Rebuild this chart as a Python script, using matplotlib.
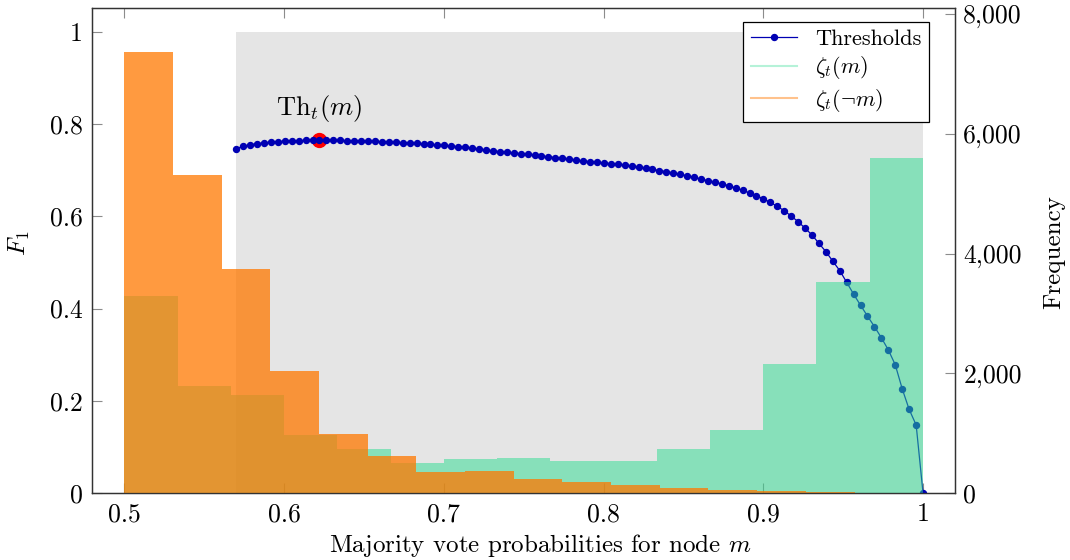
import matplotlib
matplotlib.use('Agg')
import matplotlib.pyplot as plt
from matplotlib.lines import Line2D
from matplotlib.ticker import FuncFormatter, MultipleLocator

# threshold sweep (x) and the F1 score reached at each threshold
thresholds = [
    0.5700, 0.5743, 0.5787, 0.5830, 0.5874, 0.5917, 0.5961, 0.6004, 0.6047, 0.6091,
    0.6134, 0.6178, 0.6221, 0.6265, 0.6308, 0.6352, 0.6395, 0.6438, 0.6482, 0.6525,
    0.6569, 0.6612, 0.6656, 0.6699, 0.6742, 0.6786, 0.6829, 0.6873, 0.6916, 0.6960,
    0.7003, 0.7046, 0.7090, 0.7133, 0.7177, 0.7220, 0.7264, 0.7307, 0.7350, 0.7394,
    0.7437, 0.7481, 0.7524, 0.7568, 0.7611, 0.7655, 0.7698, 0.7741, 0.7785, 0.7828,
    0.7872, 0.7915, 0.7959, 0.8002, 0.8045, 0.8089, 0.8132, 0.8176, 0.8219, 0.8263,
    0.8306, 0.8349, 0.8393, 0.8436, 0.8480, 0.8523, 0.8567, 0.8610, 0.8653, 0.8697,
    0.8740, 0.8784, 0.8827, 0.8871, 0.8914, 0.8957, 0.9001, 0.9044, 0.9088, 0.9131,
    0.9175, 0.9218, 0.9262, 0.9305, 0.9348, 0.9392, 0.9435, 0.9479, 0.9522, 0.9566,
    0.9609, 0.9652, 0.9696, 0.9739, 0.9783, 0.9826, 0.9870, 0.9913, 0.9957, 1.0000,
]
f1_scores = [
    0.7470, 0.7520, 0.7555, 0.7578, 0.7596, 0.7610, 0.7622, 0.7632, 0.7640, 0.7645,
    0.7649, 0.7651, 0.7653, 0.7651, 0.7649, 0.7647, 0.7644, 0.7640, 0.7636, 0.7631,
    0.7626, 0.7621, 0.7614, 0.7607, 0.7600, 0.7593, 0.7585, 0.7577, 0.7564, 0.7550,
    0.7538, 0.7526, 0.7513, 0.7497, 0.7480, 0.7461, 0.7442, 0.7423, 0.7404, 0.7390,
    0.7375, 0.7360, 0.7343, 0.7326, 0.7310, 0.7293, 0.7276, 0.7258, 0.7240, 0.7222,
    0.7203, 0.7188, 0.7173, 0.7158, 0.7143, 0.7128, 0.7113, 0.7090, 0.7067, 0.7043,
    0.7019, 0.6995, 0.6970, 0.6941, 0.6912, 0.6883, 0.6847, 0.6810, 0.6775, 0.6740,
    0.6704, 0.6667, 0.6617, 0.6566, 0.6508, 0.6450, 0.6378, 0.6305, 0.6215, 0.6124,
    0.6005, 0.5886, 0.5742, 0.5597, 0.5416, 0.5235, 0.5029, 0.4822, 0.4570, 0.4310,
    0.4071, 0.3840, 0.3608, 0.3369, 0.3102, 0.2783, 0.2256, 0.1815, 0.1475, 0.0000,
]

# histogram of zeta_t(m)
pos_edges = [0.5, 0.5333, 0.5667, 0.6, 0.6333, 0.6667, 0.7, 0.7333, 0.7667, 0.8,
             0.8333, 0.8667, 0.9, 0.9333, 0.9667, 1.0]
pos_counts = [3290, 1787, 1637, 969, 730, 506, 563, 584, 540, 529, 730, 1052, 2154, 3524, 5590]

# histogram of zeta_t(not m)
neg_edges = [0.5, 0.5305, 0.5609, 0.5914, 0.6219, 0.6524, 0.6828, 0.7133, 0.7438, 0.7742,
             0.8047, 0.8352, 0.8656, 0.8961, 0.9266, 0.9571]
neg_counts = [7370, 5311, 3735, 2043, 985, 618, 356, 373, 240, 189, 134, 78, 56, 39, 17]

plt.rcParams['font.family'] = 'serif'
plt.rcParams['font.serif'] = ['cmr10']
plt.rcParams['mathtext.fontset'] = 'cm'
plt.rcParams['axes.formatter.use_mathtext'] = True

blue = '#0000b3'
green = '#2bdc90'
orange = '#ff7800'

fig = plt.figure(figsize=(10.7, 5.6), dpi=100)
ax = fig.add_axes([0.0864, 0.1196, 0.8061, 0.8661])
ax2 = ax.twinx()

# shaded threshold range
ax.fill_between([thresholds[0], thresholds[-1]], 0, 1, color='#e5e5e5', lw=0, zorder=1)

best = f1_scores.index(max(f1_scores))
ax.plot(thresholds[best], f1_scores[best], 'o', color='red', ms=10, zorder=2)
ax.plot(thresholds, f1_scores, '-o', color=blue, lw=0.9, ms=4.3, zorder=3)
ax.text(thresholds[best], 0.835, r'$\mathrm{Th}_t(m)$', ha='center', va='center', fontsize=19)

ax2.stairs(pos_counts, pos_edges, fill=True, color=green, alpha=0.5, lw=0)
ax2.stairs(neg_counts, neg_edges, fill=True, color=orange, alpha=0.75, lw=0)

ax.set_xlim(0.48, 1.02)
ax.set_ylim(0, 1.052)
ax2.set_ylim(0, 8100)

ax.xaxis.set_major_locator(MultipleLocator(0.1))
ax.yaxis.set_major_locator(MultipleLocator(0.2))
ax2.yaxis.set_major_locator(MultipleLocator(2000))
ax.xaxis.set_major_formatter(FuncFormatter(lambda v, p: f'{v:g}'))
ax.yaxis.set_major_formatter(FuncFormatter(lambda v, p: f'{v:g}'))
ax2.yaxis.set_major_formatter(FuncFormatter(lambda v, p: f'{int(round(v)):,}'))

ax.tick_params(axis='x', direction='in', top=True, bottom=True, length=7, width=0.8,
               color='0.55', labelsize=18.5, pad=7)
ax.tick_params(axis='y', direction='in', left=True, right=False, length=7, width=0.8,
               color='0.55', labelsize=18.5, pad=7)
ax2.tick_params(axis='y', direction='in', right=True, left=False, length=7, width=0.8,
                color='0.55', labelsize=18.5, pad=6)
for a in (ax, ax2):
    for s in a.spines.values():
        s.set_linewidth(0.9)
        s.set_color('#333333')

ax.set_xlabel(r'Majority vote probabilities for node $m$', fontsize=18)
ax.xaxis.set_label_coords(0.519, -0.081)
ax.set_ylabel(r'$F_1$', fontsize=18)
ax.yaxis.set_label_coords(-0.07, 0.515)
ax2.set_ylabel('Frequency', fontsize=18)
ax2.yaxis.set_label_coords(1.102, 0.497)

handles = [
    Line2D([], [], color=blue, marker='o', ms=4.3, lw=0.9),
    Line2D([], [], color=green, alpha=0.35, lw=1.5),
    Line2D([], [], color=orange, alpha=0.45, lw=1.5),
]
labels = ['Thresholds', r'$\zeta_t(m)$', r'$\zeta_t(\neg m)$']
leg = ax2.legend(handles, labels, loc='upper right', bbox_to_anchor=(0.970, 0.972),
                 borderaxespad=0, fontsize=16, fancybox=False, framealpha=1,
                 edgecolor='black', handlelength=2.1, borderpad=0.35, labelspacing=0.25)
leg.get_frame().set_linewidth(0.9)

fig.savefig('out.png', dpi=100)
